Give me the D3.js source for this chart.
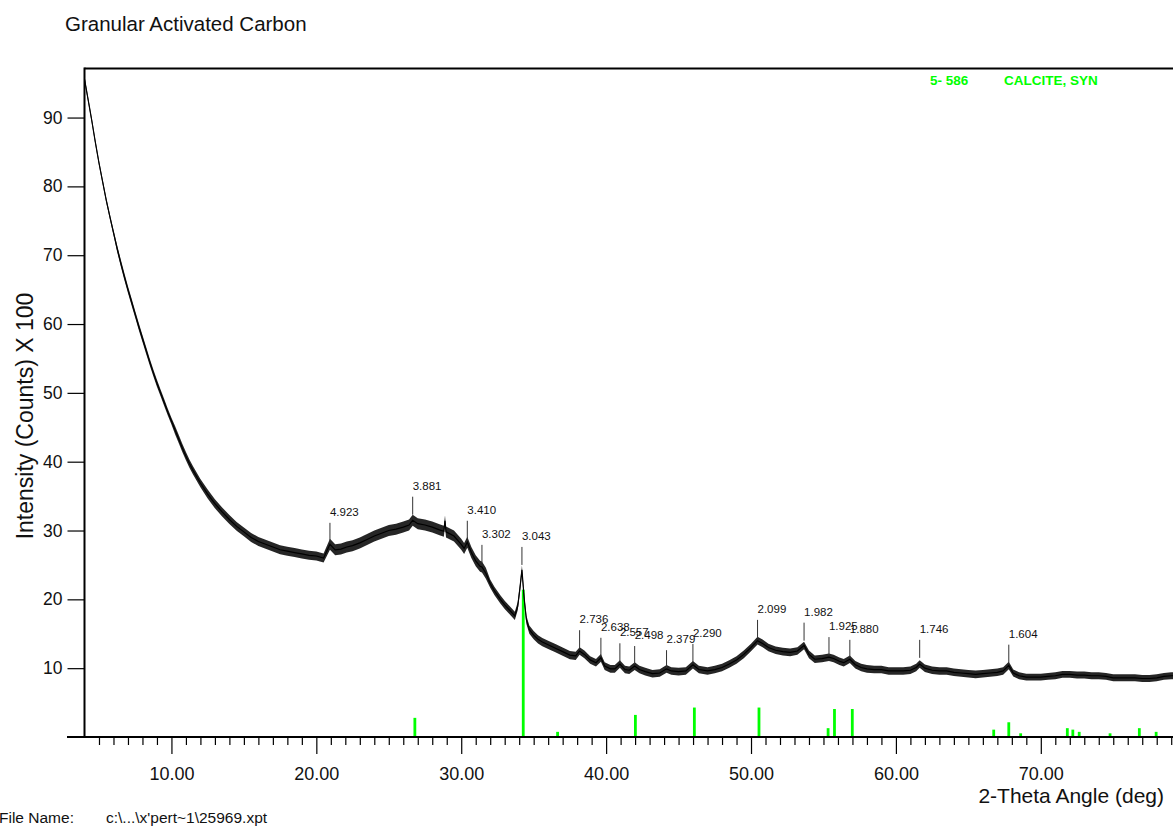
<!DOCTYPE html>
<html><head><meta charset="utf-8">
<script src="https://cdn.jsdelivr.net/npm/d3@7"></script>
<style>
body{margin:0;background:#fff}
svg{display:block}
text{font-family:Arial,"Liberation Sans",sans-serif;fill:#111}
</style>
</head><body>
<svg id="chart" width="1173" height="826"></svg>
<script>
// ---------- data ----------
const chartTitle = "Granular Activated Carbon";
const yAxisTitle = "Intensity (Counts) X 100";
const xAxisTitle = "2-Theta Angle (deg)";
const fileLabel = "File Name:";
const fileValue = "c:\\...\\x'pert~1\\25969.xpt";
const refCard = "5- 586";
const refName = "CALCITE, SYN";

const xMajorTicks = [10, 20, 30, 40, 50, 60, 70];
const xMajorLabels = ["10.00", "20.00", "30.00", "40.00", "50.00", "60.00", "70.00"];
const yTicks = [10, 20, 30, 40, 50, 60, 70, 80, 90];

// measured scan (2-theta in degrees, counts x 100)
const scanTheta = [
  4.0,4.25,4.5,4.75,5.0,5.25,5.5,5.75,6.0,6.25,6.5,6.75,7.0,7.25,7.5,7.75,8.0,8.25,8.5,8.75,9.0,9.25,9.5,9.75,10.0,10.25,10.5,10.75,11.0,11.25,11.5,11.75,12.0,
  12.5,13.0,13.5,14.0,14.5,15.0,15.5,16.0,16.5,17.0,17.5,18.0,18.5,19.0,19.5,20.0,20.5,
  20.94,21.3,21.7,22.1,22.5,23.0,23.5,24.0,24.5,25.0,25.5,26.0,26.4,26.65,27.0,27.5,28.0,28.5,28.8,28.88,28.95,29.5,30.0,30.2,30.42,30.7,31.0,31.3,31.43,31.7,
  32.0,32.3,32.7,33.0,33.4,33.7,33.9,34.05,34.19,34.35,34.5,34.7,35.0,35.3,35.6,36.0,36.5,37.0,37.5,37.9,
  38.17,38.5,38.9,39.3,39.64,39.9,40.3,40.6,40.95,41.3,41.6,41.97,42.3,42.7,43.2,43.7,44.17,44.5,45.0,45.5,45.99,46.4,47.0,47.5,48.0,48.5,49.0,49.5,50.0,
  50.45,50.8,51.2,51.7,52.2,52.7,53.2,53.66,54.0,54.4,54.9,55.38,55.7,56.1,56.4,56.82,57.2,57.6,58.0,58.5,59.0,59.5,60.0,60.5,61.0,61.4,61.64,62.0,62.5,63.0,63.5,64.0,64.5,65.0,65.5,66.0,66.5,67.0,67.4,67.79,
  68.1,68.5,69.0,69.5,70.0,70.5,71.0,71.5,72.0,72.5,73.0,73.5,74.0,74.5,75.0,75.5,76.0,76.5,77.0,77.5,78.0,78.5,79.0,79.5,80.0
];
const scanCounts = [
  95.6,92.6,89.6,86.4,83.4,80.7,78.0,75.6,73.3,71.0,68.9,66.9,65.0,63.2,61.4,59.6,57.9,56.2,54.5,52.9,51.4,50.0,48.6,47.2,45.9,44.6,43.3,42.0,40.8,39.7,38.7,37.8,36.9,
  35.3,33.9,32.7,31.6,30.6,29.8,29.0,28.4,28.0,27.6,27.2,27.0,26.8,26.6,26.4,26.3,26.0,
  28.0,27.2,27.3,27.6,27.8,28.2,28.7,29.2,29.6,30.0,30.2,30.5,30.8,31.5,31.0,30.8,30.5,30.1,29.9,31.4,29.8,29.2,28.0,27.4,28.3,26.8,25.6,24.8,24.7,23.8,
  22.3,21.2,20.0,19.2,18.3,17.6,19.0,21.6,24.3,20.0,17.0,15.6,14.8,14.2,13.8,13.4,12.9,12.4,11.9,11.8,
  12.5,12.0,11.2,10.8,11.5,10.3,9.9,9.9,10.6,9.8,9.7,10.3,9.8,9.5,9.2,9.3,9.9,9.6,9.5,9.6,10.5,9.8,9.6,9.8,10.1,10.6,11.2,12.0,13.0,
  14.0,13.6,13.0,12.6,12.4,12.3,12.5,13.3,12.0,11.3,11.4,11.6,11.4,11.0,10.8,11.3,10.5,10.1,9.9,9.8,9.8,9.6,9.6,9.6,9.7,10.1,10.6,10.0,9.7,9.6,9.6,9.4,9.3,9.2,9.1,9.2,9.3,9.4,9.6,10.4,
  9.3,8.9,8.7,8.7,8.7,8.8,8.9,9.1,9.1,9.0,9.0,8.9,8.9,8.8,8.6,8.6,8.6,8.6,8.5,8.5,8.6,8.8,8.9,8.9,8.9
];
// half width of the counting-noise band, by 2-theta range
const noiseFrom = [4.0, 6.1, 10.1, 12.1, 20.6, 31.8, 38.0, 50.2, 68.0];
const noiseHalf = [0.35, 0.5, 0.6, 0.65, 0.8, 0.6, 0.55, 0.55, 0.5];

// peak-search labels (d-spacing), their 2-theta and peak top
const peakTheta = [20.94, 26.65, 30.42, 31.43, 34.19, 38.17, 39.64, 40.95, 41.97, 44.17, 45.99, 50.45, 53.66, 55.38, 56.82, 61.64, 67.79];
const peakLabel = ["4.923","3.881","3.410","3.302","3.043","2.736","2.638","2.557","2.498","2.379","2.290","2.099","1.982","1.925","1.880","1.746","1.604"];
const peakTop = [28.5, 32.3, 28.8, 25.3, 25.0, 12.9, 11.8, 11.0, 10.6, 10.0, 10.9, 14.4, 14.0, 11.9, 11.5, 11.5, 10.8];

// reference pattern 5-586 Calcite, syn: 2-theta and relative intensity
const refTheta = [26.80, 34.28, 36.65, 42.02, 46.09, 50.55, 55.32, 55.76, 56.99, 66.75, 67.79, 68.61, 71.83, 72.21, 72.65, 74.78, 76.80, 77.96];
const refIntensity = [13, 100, 3.5, 15, 20, 20, 6, 19, 19, 5, 10, 2.5, 6, 5, 3.5, 2.5, 6, 3.5];

// ---------- layout ----------
const svg = d3.select("#chart");
const x = d3.scaleLinear().domain([4, 80]).range([84.5, 1185.7]);
const y = d3.scaleLinear().domain([0, 97.2]).range([737, 68]);
const yStick = d3.scaleLinear().domain([0, 100]).range([y(0), y(21.4)]);
const green = "#00ff00";

svg.append("defs").append("clipPath").attr("id", "plotclip")
  .append("rect").attr("x", 84.5).attr("y", 68).attr("width", 1110).attr("height", 670);

// title
svg.append("text").attr("x", 65).attr("y", 31).attr("font-size", 20.5).text(chartTitle);

// reference sticks
svg.append("g").selectAll("line").data(refTheta).join("line")
  .attr("x1", d => x(d)).attr("x2", d => x(d))
  .attr("y1", yStick(0)).attr("y2", (d, i) => yStick(refIntensity[i]))
  .attr("stroke", green).attr("stroke-width", 2.8);

// scan
const scan = scanTheta.map((t, i) => {
  let k = 0;
  for (let j = 0; j < noiseFrom.length; j++) if (t >= noiseFrom[j]) k = j;
  return { t, c: scanCounts[i], n: noiseHalf[k] };
});
const gScan = svg.append("g").attr("clip-path", "url(#plotclip)");
gScan.append("path").datum(scan)
  .attr("d", d3.area().x(d => x(d.t)).y0(d => y(d.c - d.n)).y1(d => y(d.c + d.n)))
  .attr("fill", "#000").attr("fill-opacity", 0.85);
gScan.append("path").datum(scan)
  .attr("d", d3.line().x(d => x(d.t)).y(d => y(d.c)))
  .attr("fill", "none").attr("stroke", "#000").attr("stroke-width", 1.2);

// peak markers
const gPeaks = svg.append("g");
peakTheta.forEach((t, i) => {
  const px = x(t), py = y(peakTop[i]);
  gPeaks.append("line").attr("x1", px).attr("x2", px).attr("y1", py).attr("y2", py - 18)
    .attr("stroke", "#333").attr("stroke-width", 1);
  gPeaks.append("text").attr("x", px).attr("y", py - 25).attr("font-size", 11.5).text(peakLabel[i]);
});

// frame
svg.append("line").attr("x1", 84.5).attr("x2", 1173).attr("y1", 68.5).attr("y2", 68.5)
  .attr("stroke", "#000").attr("stroke-width", 2);
svg.append("line").attr("x1", 84.5).attr("x2", 84.5).attr("y1", 67.5).attr("y2", 737)
  .attr("stroke", "#000").attr("stroke-width", 2);
svg.append("line").attr("x1", 67).attr("x2", 1173).attr("y1", 737).attr("y2", 737)
  .attr("stroke", "#000").attr("stroke-width", 2);

// y axis
const yAxis = svg.append("g").attr("transform", "translate(84.5,0)")
  .call(d3.axisLeft(y).tickValues(yTicks).tickSize(17).tickPadding(5).tickFormat(d3.format("d")));
yAxis.select(".domain").remove();
yAxis.selectAll("line").attr("stroke", "#000").attr("stroke-width", 1.2);
yAxis.selectAll("text").attr("font-size", 17.5).attr("fill", "#111").attr("font-family", "Arial, 'Liberation Sans', sans-serif");

// x axis minor
const minor = d3.range(5, 80).filter(v => !xMajorTicks.includes(v));
const xMinor = svg.append("g").attr("transform", "translate(0,737)")
  .call(d3.axisBottom(x).tickValues(minor).tickSize(8).tickFormat(""));
xMinor.select(".domain").remove();
xMinor.selectAll("line").attr("stroke", "#000").attr("stroke-width", 1.2);
// x axis major
const xMajor = svg.append("g").attr("transform", "translate(0,737)")
  .call(d3.axisBottom(x).tickValues(xMajorTicks).tickSize(17).tickPadding(13)
    .tickFormat((d, i) => xMajorLabels[i]));
xMajor.select(".domain").remove();
xMajor.selectAll("line").attr("stroke", "#000").attr("stroke-width", 1.2);
xMajor.selectAll("text").attr("font-size", 18).attr("fill", "#111").attr("font-family", "Arial, 'Liberation Sans', sans-serif");

// axis titles
svg.append("text").attr("transform", "translate(33,416) rotate(-90)")
  .attr("text-anchor", "middle").attr("font-size", 23).text(yAxisTitle);
svg.append("text").attr("x", 1164).attr("y", 803).attr("text-anchor", "end")
  .attr("font-size", 21).text(xAxisTitle);

// legend
svg.append("text").attr("x", 930).attr("y", 85).attr("font-size", 13.5).attr("font-weight", "bold")
  .style("fill", green).text(refCard);
svg.append("text").attr("x", 1004).attr("y", 85).attr("font-size", 13.5).attr("font-weight", "bold")
  .style("fill", green).text(refName);

// file name
svg.append("text").attr("x", -1).attr("y", 823).attr("font-size", 15.5).text(fileLabel);
svg.append("text").attr("x", 106).attr("y", 823).attr("font-size", 15.5).text(fileValue);
</script>
</body></html>
